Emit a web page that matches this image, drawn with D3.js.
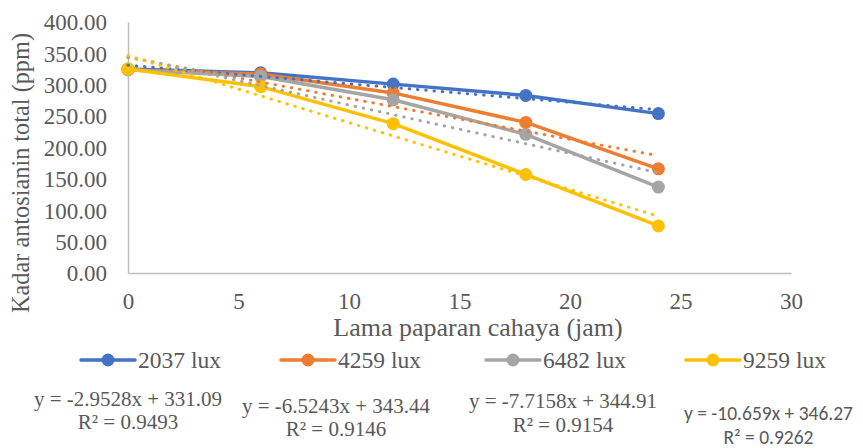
<!DOCTYPE html>
<html>
<head>
<meta charset="utf-8">
<script src="https://cdn.jsdelivr.net/npm/d3@7/dist/d3.min.js"></script>
<style>
  html, body { margin: 0; padding: 0; background: #fff; }
  svg { display: block; }
</style>
</head>
<body>
<svg id="chart" width="863" height="448"></svg>
<script>
// ---- data ----
const hours = [0, 6, 12, 18, 24];
const seriesNames = ["2037 lux", "4259 lux", "6482 lux", "9259 lux"];
const s2037 = [325, 319, 301, 283, 254];
const s4259 = [324, 317, 287, 240, 166];
const s6482 = [324, 313, 276, 221, 137];
const s9259 = [325, 297, 238, 157, 75];
const slopes = [-2.9528, -6.5243, -7.7158, -10.659];
const intercepts = [331.09, 343.44, 344.91, 346.27];
const eqLabels = ["y = -2.9528x + 331.09", "y = -6.5243x + 343.44", "y = -7.7158x + 344.91", "y = -10.659x + 346.27"];
const r2Labels = ["R² = 0.9493", "R² = 0.9146", "R² = 0.9154", "R² = 0.9262"];
const yTicks = [0, 50, 100, 150, 200, 250, 300, 350, 400];
const xTicks = [0, 5, 10, 15, 20, 25, 30];
const colors = ["#4472C4", "#ED7D31", "#A5A5A5", "#FFC000"];
const allSeries = [s2037, s4259, s6482, s9259];

const svg = d3.select("#chart");
const serif = "Liberation Serif";
const sansEq = "Carlito";
const textColor = "#595959";

const x = d3.scaleLinear().domain([0, 30]).range([128, 791]);
const y = d3.scaleLinear().domain([0, 400]).range([273, 22]);

// axes
const yAxis = svg.append("g").attr("transform", `translate(${x(0)},0)`)
  .call(d3.axisLeft(y).tickValues(yTicks).tickSize(0).tickPadding(21).tickFormat(d3.format(".2f")));
const xAxis = svg.append("g").attr("transform", `translate(0,${y(0)})`)
  .call(d3.axisBottom(x).tickValues(xTicks).tickSize(0).tickPadding(20));
[yAxis, xAxis].forEach(g => {
  g.attr("font-family", serif);
  g.select(".domain").attr("stroke", "#BFBFBF").attr("stroke-width", 1.5);
  g.selectAll("text").style("font-family", serif).style("font-size", "23px").attr("fill", textColor);
});
yAxis.selectAll("text").attr("dy", "0.34em");
xAxis.selectAll("text").attr("dy", "0.7em");

// axis titles
svg.append("text")
  .attr("transform", `translate(29,173) rotate(-90)`)
  .attr("text-anchor", "middle")
  .style("font-family", serif).style("font-size", "24.3px").attr("fill", textColor)
  .text("Kadar antosianin total (ppm)");
svg.append("text")
  .attr("x", 478).attr("y", 336)
  .attr("text-anchor", "middle")
  .style("font-family", serif).style("font-size", "26px").attr("fill", textColor)
  .text("Lama paparan cahaya (jam)");

// series
const line = d3.line().x((d, i) => x(hours[i])).y(d => y(d));
allSeries.forEach((s, k) => {
  const g = svg.append("g");
  g.append("path").datum(s).attr("d", line)
    .attr("fill", "none").attr("stroke", colors[k]).attr("stroke-width", 3.5)
    .attr("stroke-linejoin", "round");
  g.selectAll("circle").data(s).enter().append("circle")
    .attr("cx", (d, i) => x(hours[i])).attr("cy", d => y(d)).attr("r", 6.5)
    .attr("fill", colors[k]);
});

// trendlines
slopes.forEach((m, k) => {
  const pts = [0, 24].map(h => [x(h), y(m * h + intercepts[k])]);
  svg.append("path").attr("d", d3.line()(pts))
    .attr("fill", "none").attr("stroke", colors[k]).attr("stroke-width", 3)
    .attr("stroke-linecap", "round").attr("stroke-dasharray", "0.5 7.8");
});

// legend
const legendX = [81, 281, 486, 686];
const legendY = 360;
seriesNames.forEach((name, k) => {
  const g = svg.append("g").attr("transform", `translate(${legendX[k]},${legendY})`);
  g.append("line").attr("x1", 0).attr("x2", 54).attr("y1", 0).attr("y2", 0)
    .attr("stroke", colors[k]).attr("stroke-width", 3.5).attr("stroke-linecap", "round");
  g.append("circle").attr("cx", 27).attr("cy", 0).attr("r", 6.5).attr("fill", colors[k]);
  g.append("text").attr("x", 57).attr("y", 7.5)
    .style("font-family", serif).style("font-size", "23.5px").attr("fill", textColor)
    .text(name);
});

// equations
const eqX = [128, 336, 563, 768.5];
const eqY = [405.5, 412.5, 408, 419.5];
eqLabels.forEach((t, k) => {
  const sans = k === 3;
  const fam = sans ? sansEq : serif;
  const fs = sans ? "19.5px" : "21px";
  const gap = sans ? 24 : 23.5;
  svg.append("text").attr("x", eqX[k]).attr("y", eqY[k]).attr("text-anchor", "middle")
    .style("font-family", fam).style("font-size", fs).attr("fill", textColor).text(t);
  svg.append("text").attr("x", eqX[k]).attr("y", eqY[k] + gap).attr("text-anchor", "middle")
    .style("font-family", fam).style("font-size", fs).attr("fill", textColor).text(r2Labels[k]);
});
</script>
</body>
</html>
